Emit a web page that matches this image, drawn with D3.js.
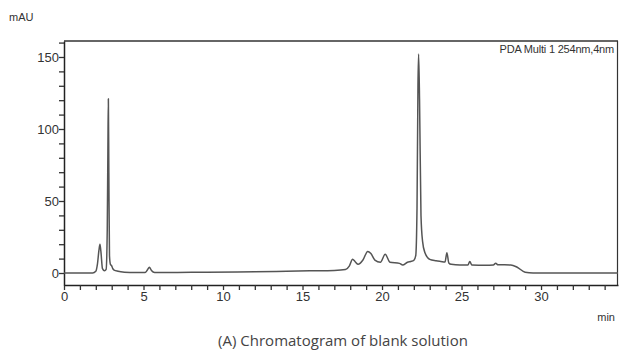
<!DOCTYPE html>
<html>
<head>
<meta charset="utf-8">
<script src="https://cdn.jsdelivr.net/npm/d3@7"></script>
<style>
  body { margin: 0; background: #fff; }
  svg { display: block; }
</style>
</head>
<body>
<div id="chart"></div>
<script>
// retention time (min) and absorbance (mAU)
const times = [0, 1.8, 2.0, 2.1, 2.2, 2.26, 2.32, 2.42, 2.55, 2.65, 2.72, 2.76, 2.79, 2.82, 2.86, 2.92, 3.0, 3.06, 3.15, 3.4, 3.8, 4.5, 5.1, 5.25, 5.37, 5.5, 5.7, 6.5, 9, 12, 14, 15.5, 17, 17.7, 17.95, 18.15, 18.3, 18.5, 18.8, 19.1, 19.3, 19.55, 19.9, 20.2, 20.5, 21.1, 21.3, 21.6, 21.8, 22.0, 22.12, 22.2, 22.26, 22.3, 22.36, 22.45, 22.55, 22.7, 23.0, 23.4, 23.7, 23.96, 24.08, 24.2, 24.35, 24.9, 25.4, 25.52, 25.65, 26.5, 27.0, 27.15, 27.3, 28.1, 28.5, 29.0, 29.5, 34.84];
const mau   = [0, 0, 1.2, 6, 16, 20, 15, 3, 1.5, 2.5, 30, 85, 121, 70, 12, 6, 5, 3.2, 2, 1.2, 0.6, 0.3, 0.3, 2.2, 4, 1.8, 0.4, 0.3, 0.6, 0.8, 1.2, 1.5, 1.8, 2.4, 5, 9.5, 8, 6, 9, 15, 13.5, 9, 7.5, 13, 7.5, 6.7, 5.5, 7.5, 8, 8.7, 12, 45, 130, 152, 120, 40, 22, 14, 9.5, 8.5, 8, 7.6, 14, 7, 6, 5.5, 5.5, 8, 5.6, 5.4, 5.6, 6.7, 5.7, 5.6, 4, 0.5, 0, 0];

const xMajor = [0, 5, 10, 15, 20, 25, 30];
const yMajor = [0, 50, 100, 150];

const xLabel = "min";
const yLabel = "mAU";
const traceName = "PDA Multi 1 254nm,4nm";
const caption = "(A) Chromatogram of blank solution";

const width = 619, height = 351;
const margin = { top: 41, right: 1, bottom: 66, left: 64 };

const svg = d3.select('#chart').append('svg')
  .attr('width', width)
  .attr('height', height);

const x = d3.scaleLinear()
  .domain([0, 34.84])
  .range([margin.left, width - margin.right]);

const y = d3.scaleLinear()
  .domain([-8.33, 161.1])
  .range([height - margin.bottom, margin.top]);

const tickFont = '"Liberation Sans Narrow", "Arial Narrow", "Liberation Sans", Arial, sans-serif';

// frame
svg.append('line')
  .attr('x1', margin.left).attr('x2', width - margin.right)
  .attr('y1', margin.top).attr('y2', margin.top)
  .attr('stroke', '#666').attr('stroke-width', 2);
svg.append('line')
  .attr('x1', width - margin.right - 0.5).attr('x2', width - margin.right - 0.5)
  .attr('y1', margin.top).attr('y2', height - margin.bottom)
  .attr('stroke', '#333').attr('stroke-width', 1.2);

// x axis
const xAxis = svg.append('g')
  .attr('transform', 'translate(0,' + (height - margin.bottom) + ')')
  .call(d3.axisBottom(x).tickValues(d3.range(0, 35, 1)).tickSize(5).tickSizeOuter(0)
    .tickFormat(function(d) { return xMajor.indexOf(d) >= 0 ? d : ''; }));
xAxis.select('.domain').attr('stroke', '#222').attr('stroke-width', 1.5);
xAxis.selectAll('.tick line').attr('stroke', '#333').attr('stroke-width', 1.3);
xAxis.selectAll('.tick text')
  .attr('y', 7)
  .style('font-family', tickFont)
  .style('font-size', '13px')
  .style('fill', '#333');

// y axis
const yAxis = svg.append('g')
  .attr('transform', 'translate(' + margin.left + ',0)')
  .call(d3.axisLeft(y).tickValues(d3.range(0, 161, 10)).tickSize(5).tickSizeOuter(0)
    .tickFormat(function(d) { return yMajor.indexOf(d) >= 0 ? d : ''; }));
yAxis.select('.domain').attr('stroke', '#222').attr('stroke-width', 1.5);
yAxis.selectAll('.tick line').attr('stroke', '#333').attr('stroke-width', 1.3);
yAxis.selectAll('.tick text')
  .attr('x', -5)
  .style('font-family', tickFont)
  .style('font-size', '13px')
  .style('fill', '#333');

// trace
const points = times.map(function(t, i) { return [t, mau[i]]; });
const line = d3.line()
  .x(function(d) { return x(d[0]); })
  .y(function(d) { return y(d[1]); })
  .curve(d3.curveMonotoneX);

svg.append('path')
  .datum(points)
  .attr('d', line)
  .attr('fill', 'none')
  .attr('stroke', '#555')
  .attr('stroke-width', 1.5)
  .attr('stroke-linejoin', 'round');

// labels
svg.append('text')
  .attr('x', 9).attr('y', 21)
  .style('font-family', tickFont)
  .style('font-size', '11px')
  .style('fill', '#333')
  .text(yLabel);

svg.append('text')
  .attr('x', width - 4).attr('y', 321)
  .attr('text-anchor', 'end')
  .style('font-family', tickFont)
  .style('font-size', '11px')
  .style('fill', '#333')
  .text(xLabel);

svg.append('text')
  .attr('x', width - 5).attr('y', 53)
  .attr('text-anchor', 'end')
  .style('font-family', tickFont)
  .style('font-size', '11px')
  .style('letter-spacing', '-0.2px')
  .style('fill', '#333')
  .text(traceName);

svg.append('text')
  .attr('x', 343).attr('y', 346)
  .attr('text-anchor', 'middle')
  .style('font-family', '"Open Sans", sans-serif')
  .style('font-size', '15px')
  .style('fill', '#444')
  .text(caption);
</script>
</body>
</html>
